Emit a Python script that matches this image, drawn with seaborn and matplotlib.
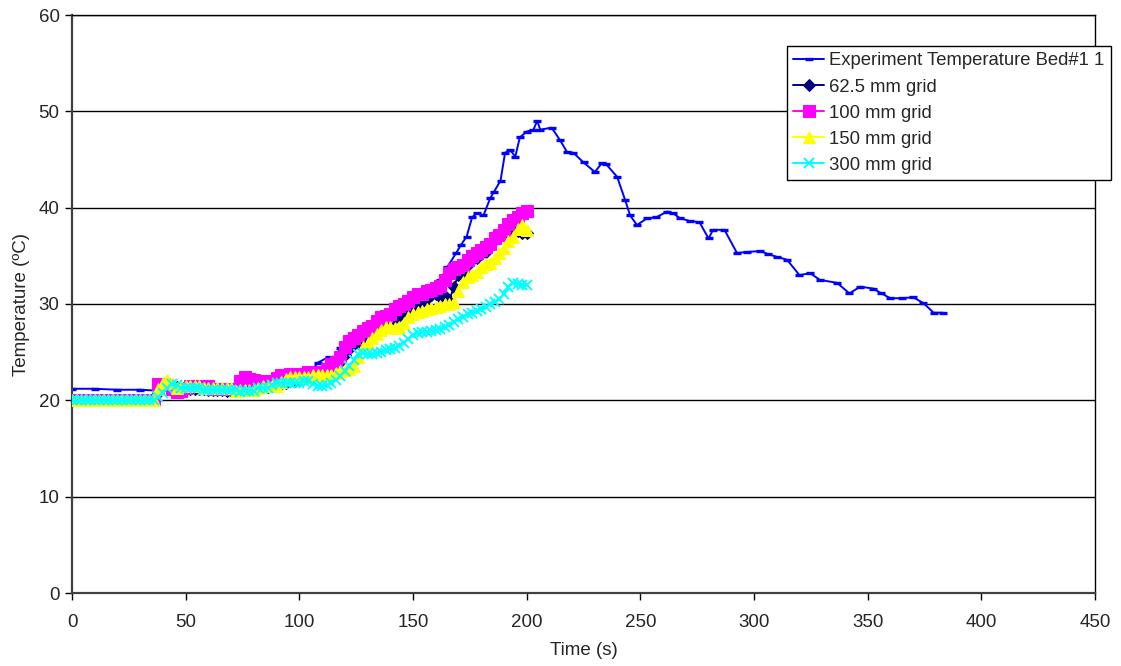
import numpy as np
import pandas as pd
import matplotlib
matplotlib.use("Agg")
import matplotlib.pyplot as plt
import seaborn as sns

# ---------------- data ----------------
exp_time = [0, 10, 20, 30, 38, 45, 55, 65, 75, 85, 92, 97, 102, 106, 108, 113, 116, 118,
            122, 126, 130, 135, 140, 145, 150, 155, 158, 162, 165, 169, 171, 173.6, 176,
            178, 181, 184, 185.5, 188.5, 190.5, 192.7, 195, 197, 200, 203, 204.6, 206,
            211, 214.7, 217.7, 220.5, 225, 230, 233, 235, 239.8, 243.3, 245.5, 248.5,
            253, 257, 261.8, 264.5, 267.5, 272, 276, 280, 282, 287, 292.5, 297, 302.7,
            306, 310, 314.5, 320, 324.7, 329, 336.5, 342, 346.7, 352.5, 356, 360, 365,
            370, 374.5, 379, 383]
exp_temp = [21.2, 21.2, 21.1, 21.1, 21.0, 21.1, 21.0, 21.0, 21.1, 21.5, 22.2, 22.6, 22.8,
            23.2, 23.9, 24.5, 24.5, 25.4, 25.9, 26.6, 27.2, 28.0, 28.8, 29.6, 30.2, 30.7,
            31.5, 32.5, 33.8, 35.3, 36.1, 37.0, 39.0, 39.4, 39.2, 41.0, 41.6, 42.8, 45.7,
            46.0, 45.3, 47.3, 47.9, 48.1, 49.0, 48.1, 48.3, 47.0, 45.8, 45.7, 44.7, 43.7,
            44.6, 44.5, 43.2, 40.8, 39.2, 38.2, 38.9, 39.0, 39.6, 39.4, 38.9, 38.6, 38.5,
            36.8, 37.7, 37.7, 35.3, 35.4, 35.5, 35.2, 34.9, 34.6, 33.0, 33.2, 32.5, 32.2,
            31.1, 31.8, 31.6, 31.1, 30.6, 30.6, 30.7, 30.1, 29.1, 29.1]

# simulation output every 2 s, 0..200 s (first 19 samples, 0..36 s, are the 20 degC start)
sim_time = list(range(0, 201, 2))

grid_62 = [20.0] * 19 + [
    20.8, 21.6, 21.9, 21.5, 21.4, 21.3, 21.3, 21.2, 21.2, 21.2,   # 38-56
    21.2, 21.1, 21.1, 21.1, 21.1, 21.0, 21.0, 21.0, 21.0, 21.1,   # 58-76
    21.2, 21.2, 21.3, 21.4, 21.4, 21.5, 21.6, 21.7, 21.8, 22.0,   # 78-96
    22.0, 22.1, 22.3, 22.4, 22.5, 22.6, 22.8, 23.0, 23.2, 23.5,   # 98-116
    24.0, 24.7, 25.3, 25.8, 26.0, 26.3, 26.5, 26.8, 27.1, 27.5,   # 118-136
    27.8, 28.2, 28.5, 28.8, 29.1, 29.4, 29.7, 30.0, 30.2, 30.5,   # 138-156
    30.9, 31.0, 30.7, 30.8, 30.4, 31.8, 33.0, 33.3, 34.0, 34.6,   # 158-176
    34.8, 35.2, 35.4, 36.0, 36.6, 37.0, 37.4, 37.6, 37.8, 37.6,   # 178-196
    37.4, 37.4]                                                   # 198-200
grid_100 = [20.0] * 19 + [
    21.7, 21.7, 21.6, 21.2, 20.9, 21.0, 21.3, 21.5, 21.5, 21.5,
    21.5, 21.5, 21.2, 21.2, 21.2, 21.2, 21.2, 21.2, 22.0, 22.4,
    22.2, 22.1, 22.0, 22.0, 22.0, 22.0, 22.3, 22.6, 22.6, 22.7,
    22.7, 22.7, 22.7, 22.9, 22.9, 22.9, 22.9, 23.3, 23.8, 24.0,
    24.5, 25.5, 26.2, 26.5, 26.8, 27.2, 27.5, 27.7, 28.2, 28.6,
    28.8, 29.0, 29.5, 29.8, 30.0, 30.3, 30.7, 31.0, 31.0, 31.3,
    31.5, 31.7, 31.9, 32.5, 33.2, 33.6, 33.8, 34.0, 34.6, 35.0,
    35.3, 35.6, 35.9, 36.2, 36.8, 37.2, 37.7, 38.3, 38.7, 39.0,
    39.4, 39.7]
grid_150 = [20.0] * 19 + [
    21.2, 21.8, 22.1, 21.8, 21.3, 21.5, 21.5, 21.5, 21.5, 21.5,
    21.3, 21.3, 21.3, 21.3, 21.3, 21.3, 21.3, 21.0, 21.1, 21.1,
    21.1, 21.1, 21.3, 21.5, 21.5, 21.5, 21.5, 21.9, 22.2, 22.4,
    22.4, 22.4, 22.4, 22.4, 22.6, 22.6, 22.6, 22.6, 22.6, 22.8,
    23.0, 23.2, 23.3, 23.6, 24.5, 25.5, 26.0, 26.5, 26.9, 27.3,
    27.6, 27.6, 27.5, 27.6, 28.0, 28.6, 29.0, 29.2, 29.3, 29.5,
    29.6, 29.7, 29.8, 30.0, 30.0, 30.2, 31.3, 32.3, 32.8, 33.0,
    33.3, 33.8, 34.2, 34.3, 34.8, 35.3, 35.8, 36.5, 37.0, 37.8,
    38.2, 37.7]
grid_300 = [20.0] * 19 + [
    20.3, 20.8, 21.3, 21.7, 21.6, 21.3, 21.3, 21.3, 21.3, 21.3,
    21.1, 21.1, 21.1, 21.1, 21.1, 21.1, 21.1, 21.1, 20.9, 21.0,
    21.0, 21.0, 21.3, 21.3, 21.3, 21.6, 21.8, 21.8, 21.8, 21.8,
    21.8, 21.8, 22.0, 22.0, 21.7, 21.5, 21.5, 21.6, 21.8, 22.1,
    22.5, 23.0, 23.6, 24.2, 24.8, 24.9, 24.8, 24.8, 24.9, 25.0,
    25.2, 25.3, 25.4, 25.6, 26.0, 26.4, 26.8, 27.0, 27.1, 27.1,
    27.2, 27.3, 27.4, 27.6, 27.8, 28.1, 28.4, 28.7, 29.0, 29.1,
    29.3, 29.5, 29.7, 30.0, 30.2, 30.5, 31.0, 31.8, 32.2, 32.1,
    32.0, 32.0]

labels = ["Experiment Temperature Bed#1 1", "62.5 mm grid", "100 mm grid",
          "150 mm grid", "300 mm grid"]
x_ticks = [0, 50, 100, 150, 200, 250, 300, 350, 400, 450]
y_ticks = [0, 10, 20, 30, 40, 50, 60]

# ---------------- plot ----------------
sns.set_style("white")
plt.rcParams["font.family"] = ["Liberation Sans", "DejaVu Sans"]

fig = plt.figure(figsize=(11.21, 6.66), dpi=100)
ax = fig.add_axes([72 / 1121, 1 - 593 / 666, (1095 - 72) / 1121, (593 - 15) / 666])

exp_df = pd.DataFrame({"t": exp_time, "T": exp_temp})
sns.lineplot(data=exp_df, x="t", y="T", ax=ax, color="#0000FF", lw=1.4,
             marker="_", markersize=6, markeredgewidth=2.4, markeredgecolor="#0000FF",
             estimator=None, sort=False, label=labels[0], zorder=2)

styles = [
    (grid_62, "#000080", "D", 6.5, {}),
    (grid_100, "#FF00FF", "s", 8.5, {}),
    (grid_150, "#FFFF00", "^", 9, {}),
    (grid_300, "#00FFFF", "x", 7.5, {"markeredgewidth": 1.4}),
]
for i, (vals, col, mk, ms, extra) in enumerate(styles):
    df = pd.DataFrame({"t": sim_time, "T": vals})
    kw = dict(markeredgecolor=col, markerfacecolor=col)
    kw.update(extra)
    sns.lineplot(data=df, x="t", y="T", ax=ax, color=col, lw=1.4, marker=mk,
                 markersize=ms, estimator=None, sort=False, label=labels[i + 1],
                 zorder=3 + i, **kw)

ax.set_xlim(0, 450)
ax.set_ylim(0, 60)
ax.set_xticks(x_ticks)
ax.set_yticks(y_ticks)
ax.tick_params(axis="both", labelsize=13.5, direction="out", length=5, width=1,
               color="black", bottom=True, left=True)
ax.tick_params(axis="x", pad=10)
ax.tick_params(axis="y", pad=4)
ax.yaxis.grid(True, color="black", lw=1)
ax.xaxis.grid(False)
ax.set_axisbelow(True)
for s in ax.spines.values():
    s.set_color("black")
    s.set_linewidth(1)
ax.spines["left"].set_color("#404040")
ax.spines["left"].set_linewidth(1.6)
ax.spines["bottom"].set_color("#404040")
ax.spines["bottom"].set_linewidth(1.6)
ax.set_xlabel("Time (s)", fontsize=13.5, labelpad=8)
ax.set_ylabel("Temperature (ºC)", fontsize=13.5, labelpad=6)

ax.get_legend().remove()
handles, lbls = ax.get_legend_handles_labels()
leg = fig.legend(handles, lbls, loc="upper left",
                 bbox_to_anchor=(787 / 1121, 1 - 46 / 666),
                 fontsize=13.3, frameon=True, fancybox=False, edgecolor="black",
                 framealpha=1, borderpad=0.35, labelspacing=0.49, handlelength=1.65,
                 handletextpad=0.3, borderaxespad=0)
leg.get_frame().set_linewidth(1)

fig.savefig("out.png", dpi=100)
